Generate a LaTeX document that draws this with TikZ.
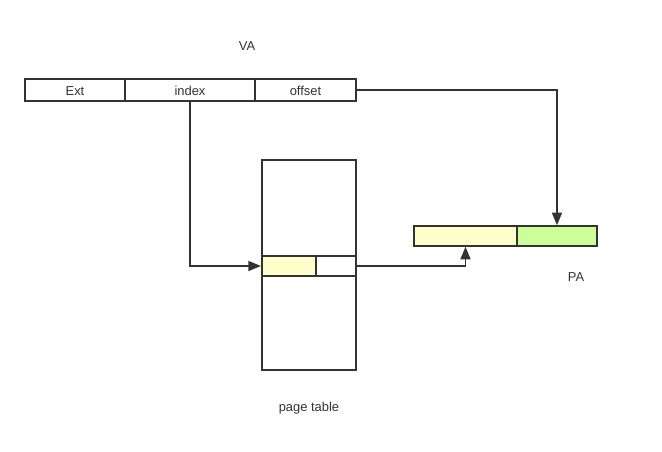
\documentclass[tikz,border=0pt]{standalone}
\usepackage{fontspec}
\setmainfont{Liberation Sans}
\usetikzlibrary{arrows.meta}

\definecolor{pageyellow}{HTML}{FFFFCC}
\definecolor{pagegreen}{HTML}{CCFF99}
\definecolor{linegray}{HTML}{333333}

\tikzset{
	cell/.style={draw=linegray,line width=1.1pt,rectangle,inner sep=0pt,minimum height=16.5pt,text=linegray,text height=9.5pt,text depth=1pt,font=\fontsize{9.7}{11}\selectfont},
	label/.style={inner sep=0pt,font=\fontsize{9.7}{11}\selectfont,text=linegray},
	link/.style={draw=linegray,line width=1.4pt,-{Triangle[length=9.5pt,width=7.5pt]}}
}

\begin{document}
\begin{tikzpicture}[x=0.75pt,y=-0.75pt]
	\useasboundingbox (0,0) rectangle (662,451);
	% virtual address
	\node[label] (va) at (247,46) {VA};
	\node[cell,minimum width=75pt] (ext) at (75,90) {Ext};
	\node[cell,minimum width=97.5pt] (index) at (190,90) {index};
	\node[cell,minimum width=75.75pt] (offset) at (305.5,90) {offset};
	% page table
	\node[cell,minimum width=70.5pt,minimum height=157.5pt] (table) at (309,265) {};
	\node[cell,fill=pageyellow,line width=1.6pt,minimum width=40.5pt,minimum height=15pt] (entry) at (289,266) {};
	\node[cell,minimum width=30pt,minimum height=15pt] (rest) at (336,266) {};
	\node[label] (tablename) at (309,408) {page table};
	% physical address
	\node[cell,fill=pageyellow,minimum width=77.25pt,minimum height=15pt] (frame) at (465.5,236) {};
	\node[cell,fill=pagegreen,minimum width=60pt,minimum height=15pt] (pageoff) at (557,236) {};
	\node[label] (pa) at (576,277) {PA};

	\draw[link] (index.south) |- (entry.west);
	\draw[link] (offset.east) -| (pageoff.north);
	\draw[link] (rest.east) -| (frame.south);
\end{tikzpicture}
\end{document}
